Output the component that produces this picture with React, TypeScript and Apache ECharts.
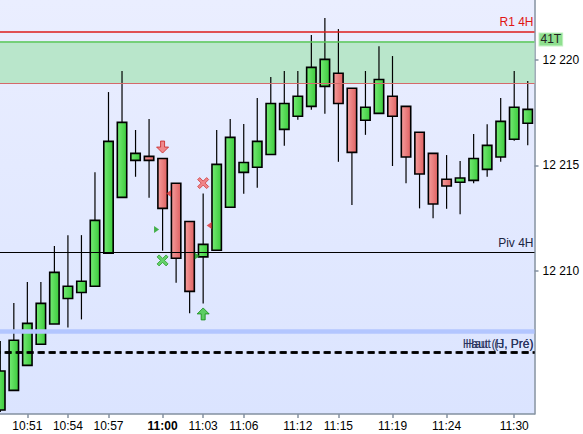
import React, { useEffect, useRef } from 'react';
import * as echarts from 'echarts';

const times = [
  '10:49:10', '10:50:00', '10:51:00', '10:52:00', '10:53:00', '10:54:00', '10:55:00', '10:56:00',
  '10:57:00', '10:58:00', '10:58:40', '10:59:20', '11:00:00', '11:01:00', '11:02:00', '11:03:00',
  '11:04:00', '11:05:00', '11:06:00', '11:07:30', '11:09:00', '11:10:30', '11:12:00', '11:13:00',
  '11:14:00', '11:15:00', '11:16:00', '11:17:00', '11:18:00', '11:19:00', '11:20:00', '11:21:30',
  '11:23:00', '11:24:00', '11:25:10', '11:26:20', '11:27:30', '11:28:40', '11:30:00', '11:31:00',
];
const tickLabels = ['10:51', '10:54', '10:57', '11:00', '11:03', '11:06', '11:12', '11:15', '11:19', '11:24', '11:30'];
const boldLabel = '11:00';

const opens = [
  12203.39, 12204.32, 12205.51, 12206.51, 12207.47, 12208.68, 12208.97, 12209.26, 12210.83, 12213.48,
  12215.24, 12215.43, 12215.33, 12214.15, 12212.34, 12210.66, 12210.97, 12213.01, 12214.67, 12214.91,
  12215.52, 12216.71, 12217.33, 12217.80, 12218.75, 12219.37, 12218.66, 12217.14, 12217.47, 12218.28,
  12217.80, 12216.57, 12215.57, 12214.34, 12214.20, 12214.29, 12214.81, 12215.40, 12216.24, 12217.00,
];
const closes = [
  12205.24, 12206.70, 12207.50, 12208.45, 12209.92, 12209.26, 12209.50, 12212.39, 12216.14, 12217.04,
  12215.57, 12215.24, 12212.96, 12210.59, 12209.02, 12211.25, 12215.05, 12216.33, 12215.14, 12216.14,
  12217.94, 12217.94, 12218.28, 12219.65, 12220.03, 12217.94, 12215.62, 12217.76, 12219.08, 12217.33,
  12215.40, 12214.59, 12213.17, 12214.02, 12214.40, 12215.33, 12215.95, 12217.09, 12217.76, 12217.66,
];
const lows = [
  12203.30, 12204.32, 12205.51, 12206.51, 12207.47, 12207.31, 12207.69, 12209.26, 12210.83, 12213.48,
  12214.46, 12213.46, 12210.95, 12209.43, 12207.98, 12208.45, 12210.97, 12213.01, 12213.65, 12213.94,
  12215.52, 12215.93, 12217.17, 12217.64, 12217.45, 12215.17, 12213.12, 12216.45, 12217.47, 12214.97,
  12214.15, 12212.96, 12212.49, 12212.94, 12212.68, 12214.15, 12214.46, 12215.17, 12216.17, 12215.95,
];
const highs = [
  12206.66, 12208.47, 12209.46, 12209.46, 12211.17, 12211.69, 12211.69, 12214.68, 12218.48, 12219.48,
  12216.68, 12217.20, 12215.33, 12214.15, 12212.34, 12213.67, 12216.68, 12217.20, 12216.96, 12218.20,
  12219.19, 12219.48, 12219.48, 12221.19, 12221.99, 12221.47, 12218.66, 12219.48, 12220.65, 12220.19,
  12217.80, 12216.57, 12215.57, 12215.49, 12215.21, 12216.49, 12216.95, 12218.20, 12219.48, 12219.00,
];

// reference levels
const r1Level = 12221.36;
const zoneTop = 12220.89;
const zoneBottom = 12218.89;
const pivLevel = 12210.87;
const blueLevel = 12207.15;
const hautLevel = 12206.11;
const timerLevel = 12220.98;
const timerText = '41T';
const yTicks = [12210, 12215, 12220];
const yMin = 12203.2;
const yMax = 12222.85;

// signal markers: [candle index, price]
const sellArrows = [[12, 12215.87]];
const buyArrows = [[15, 12207.95]];
const redCrosses = [[15, 12214.16]];
const greenCrosses = [[12, 12210.49]];
const greenTriangles = [[12, 12211.96], [15, 12210.7]];
const redTriangles = [[13, 12213.67], [16, 12212.15]];

const FONT = '"Liberation Sans", Arial, sans-serif';

export default function App() {
  const ref = useRef<HTMLDivElement>(null);
  useEffect(() => {
    if (!ref.current) return;
    const chart = echarts.init(ref.current, null, { renderer: 'svg' });
    const greenGrad = new echarts.graphic.LinearGradient(0, 0, 1, 0, [
      { offset: 0, color: '#74ea74' },
      { offset: 1, color: '#3ccb3c' },
    ]);
    const redGrad = new echarts.graphic.LinearGradient(0, 0, 1, 0, [
      { offset: 0, color: '#f59c9c' },
      { offset: 1, color: '#df6262' },
    ]);
    const candleData = times.map((_, i) => [i, opens[i], closes[i], lows[i], highs[i]]);
    const isLabeled = (_i: number, v: string) => v.endsWith(':00') && tickLabels.includes(v.slice(0, 5));
    const fmt = (v: number) => String(v).replace(/\B(?=(\d{3})+(?!\d))/g, ' ');
    const lineLabel = (text: string, color: string) => ({
      show: true,
      position: 'insideEndTop',
      formatter: text,
      color,
      fontSize: 12,
      fontFamily: FONT,
      distance: [1, 3],
    });

    const arrowDown = 'path://M4,0 L8,0 L8,6 L12,6 L6,12 L0,6 L4,6 Z';
    const arrowUp = 'path://M6,0 L12,6 L8,6 L8,12 L4,12 L4,6 L0,6 Z';
    const cross = 'path://M0,2 L2,0 L5.5,3.5 L9,0 L11,2 L7.5,5.5 L11,9 L9,11 L5.5,7.5 L2,11 L0,9 L3.5,5.5 Z';
    const triRight = 'path://M0,0 L6,3.5 L0,7 Z';
    const triLeft = 'path://M6,0 L0,3.5 L6,7 Z';

    const option: any = {
      animation: false,
      textStyle: { fontFamily: FONT },
      grid: {
        left: -6.46,
        right: 48.5,
        top: 0,
        bottom: 20,
        show: true,
        borderWidth: 0,
        backgroundColor: new echarts.graphic.LinearGradient(0, 0, 0, 1, [
          { offset: 0, color: '#eaeeff' },
          { offset: 1, color: '#dbe4ff' },
        ]),
        outerBoundsMode: 'none',
      },
      xAxis: {
        type: 'category',
        data: times,
        boundaryGap: true,
        axisLine: { show: true, lineStyle: { color: '#8391a0', width: 1.5 } },
        axisTick: { show: true, alignWithLabel: true, interval: isLabeled, length: 4, lineStyle: { color: '#8391a0', width: 1.5 } },
        axisLabel: {
          interval: isLabeled,
          margin: 6,
          color: '#000',
          fontSize: 12,
          fontFamily: FONT,
          formatter: (v: string) => (v.slice(0, 5) === boldLabel ? `{b|${boldLabel}}` : v.slice(0, 5)),
          rich: { b: { fontWeight: 'bold', fontSize: 12, color: '#000', fontFamily: FONT } },
        },
        splitLine: { show: false },
      },
      yAxis: {
        type: 'value',
        position: 'right',
        min: yMin,
        max: yMax,
        scale: true,
        splitLine: { show: false },
        axisLine: { show: true, lineStyle: { color: '#8391a0', width: 1.5 } },
        axisTick: { show: true, length: 4, customValues: yTicks, lineStyle: { color: '#8391a0', width: 1.5 } },
        axisLabel: {
          customValues: yTicks,
          margin: 8,
          color: '#000',
          fontSize: 12,
          fontFamily: FONT,
          formatter: (v: number) => (yTicks.includes(v) ? fmt(v) : ''),
        },
      },
      series: [
        {
          type: 'custom',
          z: 2,
          data: candleData,
          encode: { x: 0, y: [1, 2, 3, 4] },
          renderItem: (_p: any, api: any) => {
            const x = api.value(0);
            const o = api.coord([x, api.value(1)]);
            const c = api.coord([x, api.value(2)]);
            const l = api.coord([x, api.value(3)]);
            const h = api.coord([x, api.value(4)]);
            const up = api.value(2) >= api.value(1);
            const bw = 9.4;
            const top = Math.min(o[1], c[1]);
            const bot = Math.max(o[1], c[1]);
            return {
              type: 'group',
              children: [
                { type: 'line', shape: { x1: h[0], y1: h[1], x2: l[0], y2: l[1] }, style: { stroke: '#000', lineWidth: 1.2 } },
                {
                  type: 'rect',
                  shape: { x: o[0] - bw / 2, y: top, width: bw, height: Math.max(bot - top, 1) },
                  style: { fill: up ? greenGrad : redGrad, stroke: '#000', lineWidth: 1.6 },
                },
              ],
            };
          },
        },
        {
          type: 'scatter',
          z: 6,
          data: [],
          markArea: {
            silent: true,
            itemStyle: { color: '#b9e6cb' },
            data: [[{ yAxis: zoneTop }, { yAxis: zoneBottom }]],
          },
          markLine: {
            silent: true,
            symbol: ['none', 'none'],
            data: [
              { yAxis: zoneBottom, lineStyle: { color: '#d46a6a', width: 1.2, type: 'solid' }, label: { show: false } },
              { yAxis: zoneTop, lineStyle: { color: '#5cc75c', width: 1.5, type: 'solid' }, label: { show: false } },
              {
                yAxis: timerLevel,
                lineStyle: { color: 'rgba(0,0,0,0)', width: 1, type: 'solid' },
                label: {
                  show: true,
                  position: 'end',
                  distance: 5,
                  formatter: timerText,
                  color: '#222',
                  fontSize: 12,
                  fontFamily: FONT,
                  backgroundColor: '#8fdf8f',
                  borderColor: '#c4f2c4',
                  borderWidth: 1,
                  padding: [0, 1, 0, 1],
                  lineHeight: 12,
                },
              },
              { yAxis: r1Level, lineStyle: { color: '#dd1c1c', width: 1.5, type: 'solid' }, label: lineLabel('R1 4H', '#e01515') },
              { yAxis: pivLevel, lineStyle: { color: '#000', width: 1.2, type: 'solid' }, label: lineLabel('Piv 4H', '#1c2541') },
              { yAxis: blueLevel, lineStyle: { color: '#b3c6ff', width: 4.5, type: 'solid' }, label: { show: false } },
              { yAxis: hautLevel, lineStyle: { color: '#000', width: 2.5, type: [7, 4] }, label: lineLabel('Haut (J, Pré)', '#2a3560') },
              { yAxis: hautLevel, lineStyle: { color: '#000', width: 2.5, type: [6, 5], dashOffset: -1 }, label: lineLabel('Haut (H, Pré)', '#2a3560') },
            ],
          },
        },
        {
          type: 'scatter', z: 7, symbol: arrowDown, symbolSize: [12, 12],
          itemStyle: { color: '#f07070', borderColor: '#c82020', borderWidth: 1 },
          data: sellArrows,
        },
        {
          type: 'scatter', z: 7, symbol: arrowUp, symbolSize: [12, 12],
          itemStyle: { color: '#3cc83c', borderColor: '#138a13', borderWidth: 1 },
          data: buyArrows,
        },
        {
          type: 'scatter', z: 7, symbol: cross, symbolSize: [11, 11],
          itemStyle: { color: '#f36a6a', borderColor: '#d03a3a', borderWidth: 1 },
          data: redCrosses,
        },
        {
          type: 'scatter', z: 7, symbol: cross, symbolSize: [11, 11],
          itemStyle: { color: '#45cc45', borderColor: '#2a9a2a', borderWidth: 1 },
          data: greenCrosses,
        },
        {
          type: 'scatter', z: 7, symbol: triRight, symbolSize: [5, 7], symbolOffset: [-6, 0],
          itemStyle: { color: '#1aa01a' },
          data: greenTriangles,
        },
        {
          type: 'scatter', z: 7, symbol: triLeft, symbolSize: [5, 7], symbolOffset: [-7.5, 0],
          itemStyle: { color: '#e03030' },
          data: redTriangles,
        },
      ],
    };
    chart.setOption(option);
    return () => chart.dispose();
  }, []);
  return (
    <div
      ref={ref}
      style={{ position: 'absolute', left: 0, top: 0, width: 583, height: 434, background: '#fff' }}
    />
  );
}
